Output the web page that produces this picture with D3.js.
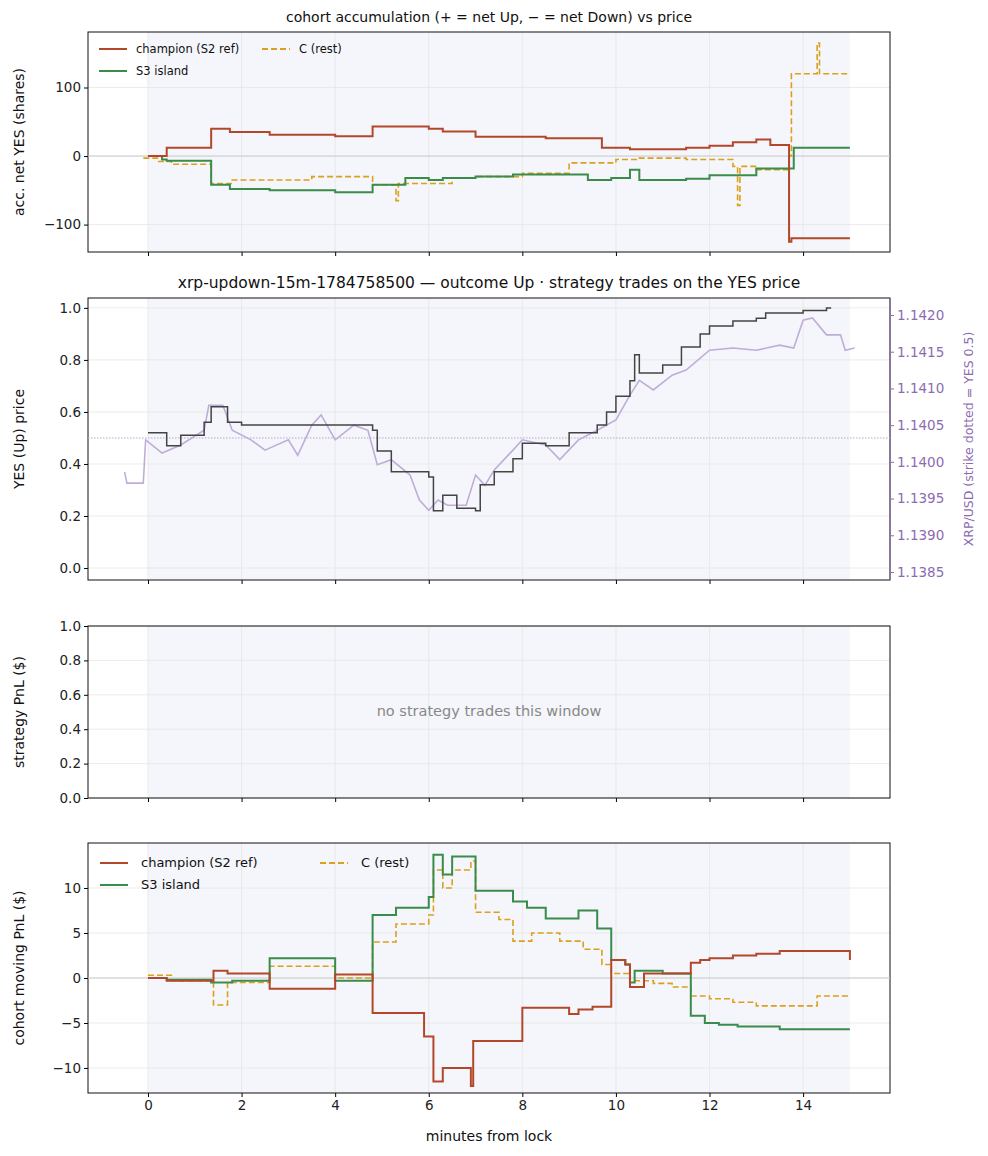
<!DOCTYPE html><html><head><meta charset="utf-8">
<script src="https://cdn.jsdelivr.net/npm/d3@7"></script>
<style>body{margin:0;background:#fff}text{font-family:"DejaVu Sans",sans-serif}</style></head><body>
<svg id="c" width="988" height="1156"></svg>
<script>
const accChampion=[[0,0],[0.4,12],[1.35,40],[1.75,35],[2.6,31],[4.0,29],[4.8,43],[6.0,40],[6.3,36],[7.0,28],[8.5,26],[9.7,12],[10.3,10],[11.5,12],[12.0,15],[12.5,20],[13.0,24],[13.3,16],[13.7,-125],[13.75,-120],[15.0,-120]];
const accS3=[[0,0],[0.3,-5],[0.4,-7],[1.35,-42],[1.75,-48],[2.6,-50],[4.0,-53],[4.8,-42],[5.5,-32],[6.0,-35],[6.3,-32],[7.0,-30],[7.8,-27],[9.4,-35],[9.9,-32],[10.3,-20],[10.5,-35],[11.5,-33],[12.0,-28],[13.0,-18],[13.8,12],[15.0,12]];
const accC=[[-0.1,-3],[0.2,-8],[0.5,-12],[1.35,-40],[1.8,-35],[3.5,-30],[4.8,-42],[5.3,-65],[5.35,-40],[6.5,-32],[7.0,-30],[8.0,-25],[9.0,-10],[10.0,-5],[10.5,-3],[11.5,-5],[12.5,-15],[12.6,-72],[12.65,-15],[13.0,-20],[13.7,0],[13.75,120],[14.3,165],[14.35,120],[15.0,120]];
const yesPrice=[[0,0.52],[0.4,0.47],[0.7,0.51],[1.2,0.56],[1.35,0.62],[1.7,0.56],[2.0,0.55],[2.6,0.55],[4.8,0.53],[4.9,0.45],[5.2,0.37],[6.0,0.35],[6.1,0.22],[6.3,0.28],[6.6,0.23],[7.0,0.22],[7.1,0.32],[7.4,0.37],[7.8,0.42],[8.0,0.48],[8.5,0.47],[9.0,0.52],[9.6,0.55],[9.8,0.6],[10.0,0.66],[10.3,0.72],[10.4,0.82],[10.5,0.75],[11.0,0.78],[11.4,0.85],[11.8,0.9],[12.0,0.93],[12.5,0.95],[13.0,0.96],[13.2,0.98],[14.0,0.99],[14.5,1.0],[14.6,1.0]];
const xrpPrice=[[-0.5,1.13986],[-0.45,1.13971],[-0.1,1.13971],[-0.05,1.14030],[0.3,1.14012],[0.7,1.14023],[1.2,1.14043],[1.3,1.14077],[1.6,1.14077],[1.8,1.14043],[2.2,1.14030],[2.5,1.14016],[3.0,1.14030],[3.2,1.14009],[3.5,1.14050],[3.7,1.14064],[4.0,1.14030],[4.4,1.14050],[4.7,1.14043],[4.9,1.13996],[5.2,1.14003],[5.6,1.13982],[5.8,1.13948],[6.0,1.13934],[6.2,1.13948],[6.4,1.13941],[6.8,1.13941],[7.0,1.13982],[7.2,1.13968],[7.4,1.13989],[7.8,1.14016],[8.0,1.14030],[8.5,1.14023],[8.8,1.14003],[9.2,1.14030],[9.6,1.14043],[10.0,1.14057],[10.3,1.14091],[10.5,1.14111],[10.8,1.14098],[11.2,1.14118],[11.5,1.14125],[12.0,1.14152],[12.5,1.14155],[13.0,1.14152],[13.5,1.14159],[13.8,1.14155],[14.0,1.14193],[14.2,1.14196],[14.5,1.14173],[14.8,1.14173],[14.9,1.14152],[15.1,1.14155]];
const pnlChampion=[[0,0],[0.4,-0.3],[1.4,0.8],[1.7,0.5],[2.6,-1.2],[4.0,0.4],[4.8,-3.9],[5.9,-6.5],[6.1,-11.5],[6.3,-10],[6.9,-12],[6.95,-7],[8.0,-3.3],[9.0,-4],[9.2,-3.5],[9.5,-3.2],[9.9,2],[10.2,1.5],[10.3,-1],[10.6,0.5],[11.6,1.7],[11.8,2],[12.0,2.2],[12.5,2.5],[13.0,2.7],[13.5,3],[15.0,2]];
const pnlS3=[[0,0],[0.4,-0.2],[1.35,-0.5],[1.8,-0.3],[2.6,2.2],[4.0,-0.3],[4.8,7],[5.3,7.8],[6.0,9],[6.1,13.7],[6.3,11.5],[6.5,13.5],[7.0,9.7],[7.8,8.5],[8.1,7.8],[8.5,6.6],[9.2,7.5],[9.6,5.5],[9.9,2],[10.2,1.5],[10.3,-0.5],[10.4,0.8],[11.0,0.5],[11.6,-4.2],[11.9,-5],[12.2,-5.2],[12.6,-5.4],[13.5,-5.7],[15.0,-5.7]];
const pnlC=[[0,0.3],[0.5,-0.3],[1.4,-3],[1.7,-0.5],[2.6,1.3],[4.0,0],[4.8,4],[5.3,6],[6.0,7],[6.1,12],[6.3,10],[6.5,12],[6.9,13],[7.0,7.3],[7.5,6.5],[7.8,4.1],[8.2,5],[8.8,4.1],[9.3,3.2],[9.7,1.5],[9.9,0.5],[10.3,-0.3],[10.8,-0.6],[11.2,-1],[11.6,-2],[12.0,-2.3],[12.5,-2.7],[13.0,-3.1],[14.3,-2],[15.0,-2]];
const xTicks=[0,2,4,6,8,10,12,14];
const RED="#b3472a",GRN="#3a8c4a",ORG="#dca01c",PUR="#8c6bb1",LPUR="#bfadd8";
const svg=d3.select("#c");
const L=88,R=890;
const x=d3.scaleLinear().domain([-1.282,15.857]).range([L,R]);
const step=(xs,ys)=>d3.line().x(d=>xs(d[0])).y(d=>ys(d[1])).curve(d3.curveStepAfter);
function panel(top,bot,dom,ticks,label,fmt,showX){
  const y=d3.scaleLinear().domain(dom).range([bot,top]);
  svg.append("rect").attr("x",x(0)).attr("y",top).attr("width",x(15)-x(0)).attr("height",bot-top).attr("fill","#f5f6fb");
  const g=svg.append("g");
  xTicks.forEach(t=>g.append("line").attr("x1",x(t)).attr("x2",x(t)).attr("y1",top).attr("y2",bot).attr("stroke","#e6e6e6").attr("stroke-width",0.8));
  ticks.forEach(t=>g.append("line").attr("x1",L).attr("x2",R).attr("y1",y(t)).attr("y2",y(t)).attr("stroke","#e6e6e6").attr("stroke-width",0.8));
  const ya=svg.append("g").attr("transform",`translate(${L},0)`).call(d3.axisLeft(y).tickValues(ticks).tickFormat(fmt).tickSizeOuter(0).tickSize(4));
  ya.select(".domain").remove();
  ya.selectAll("text").attr("font-size",13.5).attr("fill","#222");
  const xa=svg.append("g").attr("transform",`translate(0,${bot})`).call(d3.axisBottom(x).tickValues(xTicks).tickSizeOuter(0).tickSize(4).tickFormat(showX?d3.format("d"):""));
  xa.select(".domain").remove();
  xa.selectAll("text").attr("font-size",13.5).attr("fill","#222");
  svg.append("rect").attr("x",L).attr("y",top).attr("width",R-L).attr("height",bot-top).attr("fill","none").attr("stroke","#111").attr("stroke-width",1);
  svg.append("text").attr("transform",`translate(${L-64},${(top+bot)/2}) rotate(-90)`).attr("text-anchor","middle").attr("font-size",14).attr("fill","#111").text(label);
  return y;
}
const minus=f=>v=>f(v).replace("-","−");
const y1=panel(32,252,[-140,181],[-100,0,100],"acc. net YES (shares)",minus(d3.format("d")),false);
svg.append("line").attr("x1",L).attr("x2",R).attr("y1",y1(0)).attr("y2",y1(0)).attr("stroke","#ccc");
svg.append("path").attr("d",step(x,y1)(accC)).attr("fill","none").attr("stroke",ORG).attr("stroke-width",1.6).attr("stroke-dasharray","6,3");
svg.append("path").attr("d",step(x,y1)(accS3)).attr("fill","none").attr("stroke",GRN).attr("stroke-width",2);
svg.append("path").attr("d",step(x,y1)(accChampion)).attr("fill","none").attr("stroke",RED).attr("stroke-width",2);
svg.append("text").attr("x",489).attr("y",22).attr("text-anchor","middle").attr("font-size",14).attr("fill","#111").text("cohort accumulation (+ = net Up, − = net Down) vs price");
function legend(x0,y0,fs,dx,tx){
  const items=[["champion (S2 ref)",RED,null,x0,y0],["S3 island",GRN,null,x0,y0+22],["C (rest)",ORG,"6,3",x0+dx,y0]];
  items.forEach(([t,c,da,lx,ly])=>{
    svg.append("line").attr("x1",lx).attr("x2",lx+28).attr("y1",ly).attr("y2",ly).attr("stroke",c).attr("stroke-width",2).attr("stroke-dasharray",da);
    svg.append("text").attr("x",lx+tx).attr("y",ly+4).attr("font-size",fs).attr("fill","#111").text(t);
  });
}
legend(99,49,11.5,163,37);
const y2=panel(298,580,[-0.046,1.038],[0,0.2,0.4,0.6,0.8,1.0],"YES (Up) price",d3.format(".1f"),false);
const y2r=d3.scaleLinear().domain([1.1385,1.1420]).range([572,315]);
const ra=svg.append("g").attr("transform",`translate(${R},0)`).call(d3.axisRight(y2r).tickValues([1.1385,1.1390,1.1395,1.1400,1.1405,1.1410,1.1415,1.1420]).tickFormat(d3.format(".4f")).tickSize(4));
ra.select(".domain").remove();
ra.selectAll("text").attr("font-size",13.5).attr("fill",PUR);ra.selectAll("line").attr("stroke",PUR);
svg.append("line").attr("x1",R).attr("x2",R).attr("y1",298).attr("y2",580).attr("stroke",PUR).attr("stroke-width",1);
svg.append("text").attr("transform",`translate(973,439) rotate(-90)`).attr("text-anchor","middle").attr("font-size",12.5).attr("fill",PUR).text("XRP/USD (strike dotted = YES 0.5)");
svg.append("line").attr("x1",L).attr("x2",R).attr("y1",y2(0.5)).attr("y2",y2(0.5)).attr("stroke","#b8a8cc").attr("stroke-width",1).attr("stroke-dasharray","1.5,1.5");
svg.append("path").attr("d",d3.line().x(d=>x(d[0])).y(d=>y2r(d[1])).curve(d3.curveLinear)(xrpPrice)).attr("fill","none").attr("stroke",LPUR).attr("stroke-width",1.6);
svg.append("path").attr("d",step(x,y2)(yesPrice)).attr("fill","none").attr("stroke","#444").attr("stroke-width",1.5);
svg.append("text").attr("x",489).attr("y",288).attr("text-anchor","middle").attr("font-size",15.5).attr("fill","#111").text("xrp-updown-15m-1784758500 — outcome Up · strategy trades on the YES price");
panel(626,798,[0,1],[0,0.2,0.4,0.6,0.8,1.0],"strategy PnL ($)",d3.format(".1f"),false);
svg.append("text").attr("x",489).attr("y",716).attr("text-anchor","middle").attr("font-size",14.5).attr("fill","#888").text("no strategy trades this window");
const y4=panel(843,1093,[-12.78,15],[-10,-5,0,5,10],"cohort moving PnL ($)",minus(d3.format("d")),true);
svg.append("line").attr("x1",L).attr("x2",R).attr("y1",y4(0)).attr("y2",y4(0)).attr("stroke","#ccc");
svg.append("path").attr("d",step(x,y4)(pnlC)).attr("fill","none").attr("stroke",ORG).attr("stroke-width",1.6).attr("stroke-dasharray","6,3");
svg.append("path").attr("d",step(x,y4)(pnlS3)).attr("fill","none").attr("stroke",GRN).attr("stroke-width",2);
svg.append("path").attr("d",step(x,y4)(pnlChampion)).attr("fill","none").attr("stroke",RED).attr("stroke-width",2);
legend(100,863,13,220,41);
svg.append("text").attr("x",489).attr("y",1141).attr("text-anchor","middle").attr("font-size",14).attr("fill","#111").text("minutes from lock");
</script></body></html>
